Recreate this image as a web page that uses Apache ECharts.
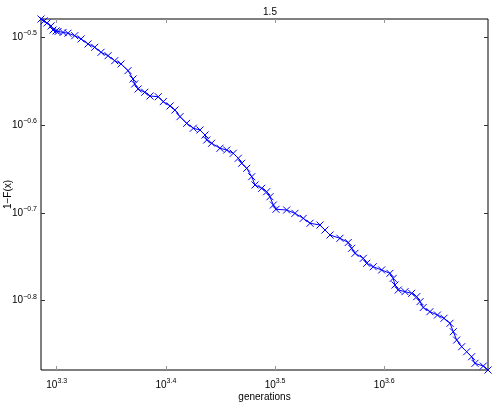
<!DOCTYPE html>
<html>
<head>
<meta charset="UTF-8">
<title>1.5</title>
<script src="https://cdn.jsdelivr.net/npm/echarts@6/dist/echarts.min.js"></script>
<style>
  html, body { margin: 0; padding: 0; background: #fff; }
</style>
</head>
<body>
<div id="main" style="width: 495px;height:402px;"></div>
<script>
// log10(generations) and log10(1-F(x))
var logGenerations = [
  3.2856, 3.2884, 3.2911, 3.2948, 3.2966, 3.2994, 3.3012, 3.3058, 3.3103, 3.3165,
  3.3223, 3.3287, 3.3348, 3.3406, 3.3470, 3.3531, 3.3589, 3.3653, 3.3699, 3.3714,
  3.3745, 3.3806, 3.3854, 3.3930, 3.3976, 3.4038, 3.4083, 3.4129, 3.4190, 3.4251,
  3.4312, 3.4358, 3.4374, 3.4419, 3.4495, 3.4557, 3.4617, 3.4663, 3.4694, 3.4740,
  3.4786, 3.4816, 3.4877, 3.4923, 3.4953, 3.4984, 3.5008, 3.5106, 3.5182, 3.5258,
  3.5320, 3.5411, 3.5457, 3.5503, 3.5594, 3.5670, 3.5701, 3.5732, 3.5808, 3.5839,
  3.5899, 3.5976, 3.6052, 3.6082, 3.6098, 3.6128, 3.6190, 3.6251, 3.6297, 3.6327,
  3.6357, 3.6418, 3.6487, 3.6547, 3.6602, 3.6632, 3.6663, 3.6709, 3.6755, 3.6800,
  3.6831, 3.6907, 3.6950
];
var logSurvival = [
  -0.4792, -0.4814, -0.4837, -0.4871, -0.4917, -0.4928, -0.4934, -0.4945, -0.4954, -0.4982,
  -0.5019, -0.5076, -0.5114, -0.5171, -0.5210, -0.5267, -0.5304, -0.5380, -0.5475, -0.5532,
  -0.5589, -0.5626, -0.5669, -0.5677, -0.5733, -0.5782, -0.5828, -0.5904, -0.5980, -0.6036,
  -0.6056, -0.6113, -0.6170, -0.6207, -0.6264, -0.6284, -0.6321, -0.6378, -0.6435, -0.6492,
  -0.6588, -0.6682, -0.6720, -0.6759, -0.6816, -0.6910, -0.6959, -0.6967, -0.7005, -0.7062,
  -0.7118, -0.7138, -0.7195, -0.7252, -0.7289, -0.7337, -0.7403, -0.7460, -0.7517, -0.7574,
  -0.7613, -0.7650, -0.7688, -0.7745, -0.7821, -0.7878, -0.7897, -0.7916, -0.7954, -0.8011,
  -0.8077, -0.8125, -0.8163, -0.8200, -0.8257, -0.8353, -0.8448, -0.8524, -0.8581, -0.8638,
  -0.8713, -0.8744, -0.8789
];
var xTicks = [3.3, 3.4, 3.5, 3.6];
var yTicks = [-0.8, -0.7, -0.6, -0.5];

var points = [];
for (var i = 0; i < logGenerations.length; i++) {
  points.push([logGenerations[i], logSurvival[i]]);
}

var font = 'Liberation Sans, Arial, Helvetica, sans-serif';
var powLabel = function (v) {
  var e = Math.abs(v).toFixed(1);
  return '10{s|' + (v < 0 ? '\u2212' : '') + e + '}';
};
var labelRich = {
  s: { fontSize: 7, fontFamily: font, color: '#000', padding: [0, 0, 8, 0] }
};

var xBase = {
  type: 'value',
  min: 3.2856,
  max: 3.695,
  splitLine: { show: false },
  axisLine: { show: false }
};
var yBase = {
  type: 'value',
  min: -0.8789,
  max: -0.4792,
  splitLine: { show: false },
  axisLine: { show: false }
};

var myChart = echarts.init(document.getElementById('main'));
var option = {
  animation: false,
  backgroundColor: '#fff',
  title: {
    text: '1.5',
    left: 265,
    top: 2,
    textAlign: 'center',
    textStyle: { fontFamily: font, fontSize: 10, fontWeight: 'normal', color: '#000' }
  },
  grid: {
    left: 41, right: 7, top: 19, bottom: 32,
    containLabel: false,
    outerBoundsMode: 'none',
    show: true,
    borderColor: '#000',
    borderWidth: 1,
    backgroundColor: '#fff'
  },
  xAxis: [
    Object.assign({}, xBase, {
      position: 'bottom',
      name: 'generations',
      nameLocation: 'middle',
      nameGap: 22,
      nameMoveOverlap: false,
      nameTextStyle: { fontFamily: font, fontSize: 10, color: '#000' },
      axisTick: { inside: true, length: 4, customValues: xTicks, lineStyle: { color: '#999' } },
      axisLabel: {
        customValues: xTicks,
        margin: 8,
        fontFamily: font, fontSize: 10, color: '#000',
        formatter: powLabel,
        rich: labelRich
      }
    }),
    Object.assign({}, xBase, {
      position: 'top',
      axisTick: { inside: true, length: 4, customValues: xTicks, lineStyle: { color: '#999' } },
      axisLabel: { show: false }
    })
  ],
  yAxis: [
    Object.assign({}, yBase, {
      position: 'left',
      name: '1\u2212F(x)',
      nameLocation: 'middle',
      nameGap: 28,
      nameRotate: 90,
      nameMoveOverlap: false,
      nameTextStyle: { fontFamily: font, fontSize: 10, color: '#000' },
      axisTick: { inside: true, length: 4, customValues: yTicks, lineStyle: { color: '#333' } },
      axisLabel: {
        customValues: yTicks,
        margin: 4,
        fontFamily: font, fontSize: 10, color: '#000',
        formatter: powLabel,
        rich: labelRich
      }
    }),
    Object.assign({}, yBase, {
      position: 'right',
      axisTick: { inside: true, length: 4, customValues: yTicks, lineStyle: { color: '#333' } },
      axisLabel: { show: false }
    })
  ],
  series: [
    {
      name: '1.5',
      type: 'line',
      data: points,
      xAxisIndex: 0,
      yAxisIndex: 0,
      symbol: 'path://M0,0L10,10M10,0L0,10',
      symbolSize: 7,
      showAllSymbol: true,
      lineStyle: { color: '#0000ff', width: 1 },
      itemStyle: { color: 'rgba(0,0,0,0)', borderColor: '#0000ff', borderWidth: 1 }
    }
  ]
};
myChart.setOption(option);
</script>
</body>
</html>
